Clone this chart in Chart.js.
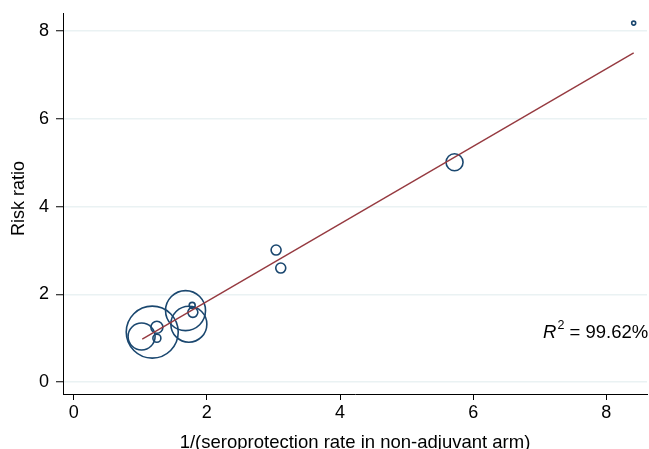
<!DOCTYPE html>
<html>
<head>
<meta charset="utf-8">
<script src="https://cdn.jsdelivr.net/npm/chart.js@4/dist/chart.umd.min.js"></script>
<style>
  html, body { margin: 0; padding: 0; background: #fff; }
  canvas { display: block; }
</style>
</head>
<body>
<canvas id="c" width="649" height="449"></canvas>
<script>
// Studies: inverse seroprotection rate (non-adjuvant arm) vs. risk ratio; bubble size = study weight
const studyX = [8.41, 5.72, 3.04, 3.11, 1.18, 1.02, 1.25, 1.25, 1.68, 1.73, 1.78, 1.79];
const studyY = [8.18, 5.01, 3.01, 2.60, 1.14, 1.04, 1.25, 1.00, 1.63, 1.32, 1.75, 1.59];
const studyWeight = [2, 8.5, 5, 5, 26, 13.5, 6, 4, 20, 18, 3, 5];

// Fitted meta-regression line endpoints
const fitX = [1.03, 8.41];
const fitY = [0.98, 7.50];

const xTicks = [0, 2, 4, 6, 8];
const yTicks = [0, 2, 4, 6, 8];

const xTitle = '1/(seroprotection rate in non-adjuvant arm)';
const yTitle = 'Risk ratio';
const r2Label = { symbol: 'R', power: '2', text: ' = 99.62%', x: 7.05, y: 1.0 };

const FONT = '"Liberation Sans", Arial, Helvetica, sans-serif';
const NAVY = '#1a476f';
const MAROON = '#963a40';
const GRID = '#eaf2f3';

const bubbles = studyX.map((x, i) => ({ x, y: studyY[i], r: studyWeight[i] }));
const fitLine = fitX.map((x, i) => ({ x, y: fitY[i] }));

const annotations = {
  id: 'annotations',
  afterDraw(chart) {
    const { ctx, chartArea, scales } = chart;
    ctx.save();
    ctx.fillStyle = '#000';
    // x-axis title
    ctx.font = '18.5px ' + FONT;
    ctx.textAlign = 'center';
    ctx.textBaseline = 'alphabetic';
    ctx.fillText(xTitle, (chartArea.left + chartArea.right) / 2, 448);
    // y-axis title
    ctx.save();
    ctx.translate(24, (chartArea.top + chartArea.bottom) / 2 - 5);
    ctx.rotate(-Math.PI / 2);
    ctx.font = '18px ' + FONT;
    ctx.fillText(yTitle, 0, 0);
    ctx.restore();
    // R-squared label
    let px = scales.x.getPixelForValue(r2Label.x);
    const py = scales.y.getPixelForValue(r2Label.y);
    ctx.textAlign = 'left';
    ctx.font = 'italic 18.5px ' + FONT;
    ctx.fillText(r2Label.symbol, px, py);
    px += ctx.measureText(r2Label.symbol).width + 1;
    ctx.font = '12.5px ' + FONT;
    ctx.fillText(r2Label.power, px, py - 9);
    px += ctx.measureText(r2Label.power).width;
    ctx.font = '18.5px ' + FONT;
    ctx.fillText(r2Label.text, px, py);
    ctx.restore();
  }
};

new Chart(document.getElementById('c'), {
  type: 'bubble',
  data: {
    datasets: [
      {
        type: 'scatter',
        data: fitLine,
        showLine: true,
        borderColor: MAROON,
        borderWidth: 1.4,
        pointRadius: 0,
        pointHoverRadius: 0,
        fill: false,
        clip: false
      },
      {
        type: 'bubble',
        data: bubbles,
        backgroundColor: 'rgba(0,0,0,0)',
        borderColor: NAVY,
        borderWidth: 1.6,
        hoverRadius: 0,
        clip: false
      }
    ]
  },
  options: {
    responsive: false,
    animation: false,
    devicePixelRatio: 1,
    layout: { autoPadding: false, padding: { top: 13, right: 2, left: 0, bottom: 0 } },
    plugins: {
      legend: { display: false },
      tooltip: { enabled: false },
      title: { display: false }
    },
    scales: {
      x: {
        type: 'linear',
        min: -0.16,
        max: 8.61,
        afterBuildTicks: s => { s.ticks = xTicks.map(v => ({ value: v })); },
        afterFit: s => { s.height = 55; s.paddingLeft = 0; s.paddingRight = 0; },
        grid: { drawOnChartArea: false, tickColor: '#000', tickLength: 6, tickWidth: 1 },
        border: { color: '#000', width: 1 },
        ticks: { color: '#000', font: { family: FONT, size: 18 }, padding: 2, maxRotation: 0 }
      },
      y: {
        type: 'linear',
        min: -0.27,
        max: 8.41,
        afterBuildTicks: s => { s.ticks = yTicks.map(v => ({ value: v })); },
        afterFit: s => { s.width = 63; s.paddingTop = 0; s.paddingBottom = 0; },
        grid: { color: GRID, lineWidth: 1.5, tickColor: '#000', tickLength: 7, tickWidth: 1 },
        border: { color: '#000', width: 1 },
        ticks: { color: '#000', font: { family: FONT, size: 18 }, padding: 7 }
      }
    }
  },
  plugins: [annotations]
});
</script>
</body>
</html>
